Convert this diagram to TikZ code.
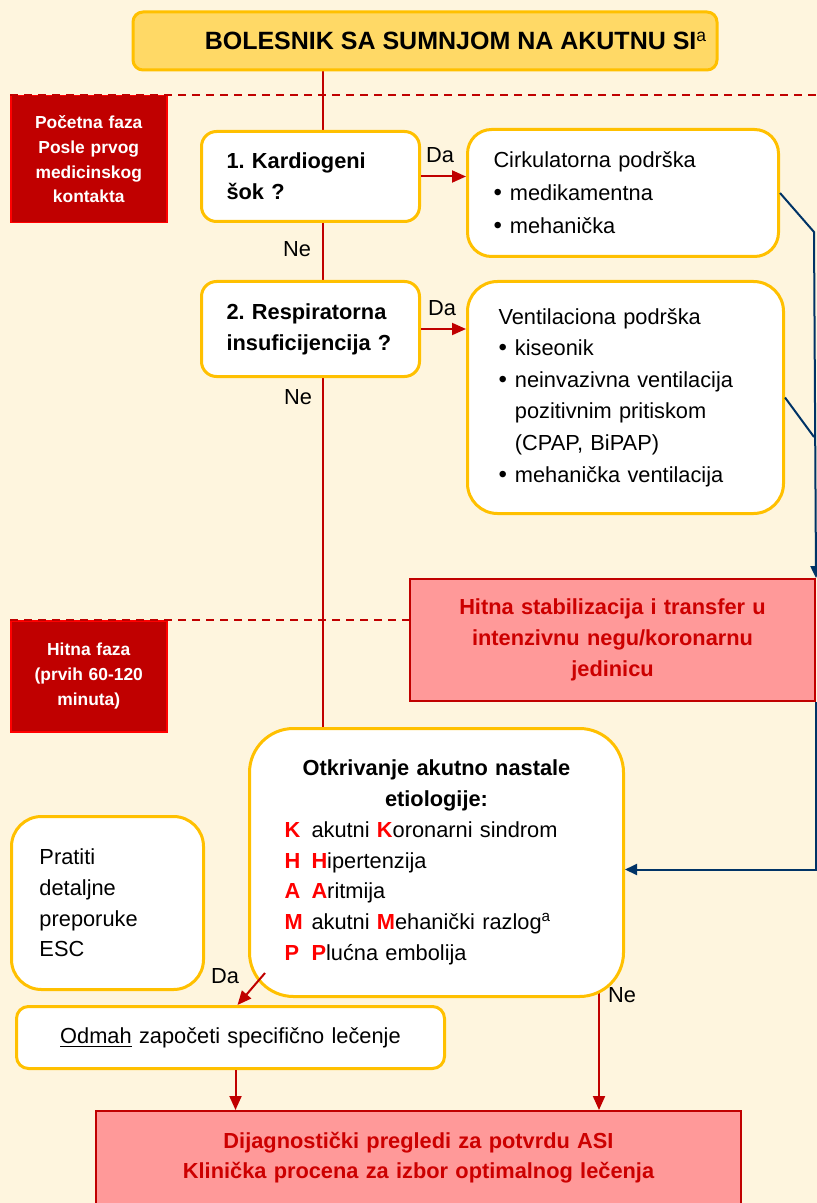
\documentclass[tikz,border=0pt]{standalone}
\usepackage{fontspec}
\setmainfont{Liberation Sans}
\usepackage{tikz}
\usetikzlibrary{positioning,arrows.meta,backgrounds}
\usepackage{xcolor}

\definecolor{cream}{HTML}{FEF5DE}
\definecolor{boxline}{HTML}{FFC000}
\definecolor{titlefill}{HTML}{FFD966}
\definecolor{darkred}{HTML}{C00000}
\definecolor{pinkfill}{HTML}{FF9999}
\definecolor{textred}{HTML}{CC0000}
\definecolor{navy}{HTML}{003366}

\newcommand{\basefont}{\fontsize{10.9}{15.4}\selectfont}
\newcommand{\bul}{{\large\textbullet}\hspace{4pt}}
\newcommand{\nobul}{\phantom{\bul}}
\newcommand{\redch}[1]{\textcolor{red}{\bfseries #1}}
\newcommand{\redkey}[1]{\makebox[13.5pt][l]{\redch{#1}}}

\begin{document}
\begin{tikzpicture}[
    x=0.5pt, y=-0.5pt,
    every node/.style={font=\basefont, inner ysep=0pt},
    titlebox/.style={draw=boxline, fill=titlefill, line width=1.5pt, rounded corners=5pt,
        minimum width=292pt, minimum height=29pt, font=\bfseries\fontsize{12.5}{15}\selectfont},
    phase/.style={draw=red, fill=darkred, line width=0.75pt, anchor=north west, align=center,
        text=white, text width=70pt, inner xsep=4pt, font=\bfseries\fontsize{8.7}{12.4}\selectfont},
    ybox/.style={draw=boxline, fill=white, line width=1.5pt, anchor=north west, align=left},
    qbox/.style={ybox, rounded corners=7.5pt, text width=84pt, inner xsep=12.5pt,
        font=\bfseries\basefont},
    alarm/.style={draw=darkred, fill=pinkfill, line width=1pt, anchor=north west, align=center,
        text=textred, font=\bfseries\basefont},
    redline/.style={draw=darkred, line width=1pt},
    redarrow/.style={redline, -{Triangle[length=7pt,width=6pt]}},
    blueline/.style={draw=navy, line width=1pt},
    bluearrow/.style={blueline, -{Triangle[length=6pt,width=5.5pt]}},
    phaseline/.style={draw=darkred, line width=1pt, dash pattern=on 4pt off 3pt}
]
\useasboundingbox (0,0) rectangle (817,1203);
\begin{scope}[on background layer]
\fill[cream] (0,0) rectangle (817,1203);
\end{scope}

\node[titlebox] (title) at (425,41) {\hspace*{31pt}BOLESNIK SA SUMNJOM NA AKUTNU SI\textsuperscript{\mdseries a}};

\node[phase, minimum height=63.5pt] (phaseA) at (10,95) {Početna faza\\Posle prvog\\medicinskog\\kontakta};
\node[phase, minimum height=55.5pt] (phaseB) at (10,620) {Hitna faza\\(prvih 60-120\\minuta)};

\node[qbox, minimum height=45pt] (kard) at (200,130) {1.\ Kardiogeni\\šok ?};
\node[qbox, minimum height=47.5pt] (resp) at (200,280) {2.\ Respiratorna\\insuficijencija ?};

\node[ybox, rounded corners=12pt, text width=129.5pt, inner xsep=13pt, minimum height=63.5pt,
    font=\fontsize{10.9}{16.5}\selectfont] (cirk) at (466,128)
    {Cirkulatorna podrška\\\bul medikamentna\\\bul mehanička};
\node[ybox, rounded corners=15pt, text width=127pt, inner xsep=15.5pt, minimum height=116pt,
    font=\fontsize{10.9}{15.8}\selectfont] (vent) at (466,280)
    {Ventilaciona podrška\\\bul kiseonik\\\bul neinvazivna ventilacija\\\nobul pozitivnim pritiskom\\\nobul (CPAP, BiPAP)\\\bul mehanička ventilacija};

\node[alarm, text width=190pt, inner xsep=6.25pt, minimum height=61pt] (hitna) at (409,578)
    {Hitna stabilizacija i transfer u\\intenzivnu negu/koronarnu\\jedinicu};

\node[ybox, rounded corners=22pt, text width=152pt, inner xsep=17.5pt, minimum height=134pt] (etio) at (248,727)
    {\makebox[\hsize]{\bfseries Otkrivanje akutno nastale}\\
     \makebox[\hsize]{\bfseries etiologije:}\\
     \redkey{K}akutni \redch{K}oronarni sindrom\\
     \redkey{H}\redch{H}ipertenzija\\
     \redkey{A}\redch{A}ritmija\\
     \redkey{M}akutni \redch{M}ehanički razlog\textsuperscript{a}\\
     \redkey{P}\redch{P}lućna embolija};

\node[ybox, rounded corners=15pt, text width=68pt, inner xsep=14pt, minimum height=86.5pt] (esc) at (10,815)
    {Pratiti\\detaljne\\preporuke\\ESC};

\node[ybox, rounded corners=6pt, align=center, text width=200pt, inner xsep=7pt, minimum height=31pt] (odmah) at (15,1005)
    {\underline{Odmah} započeti specifično lečenje};

\node[alarm, text width=310pt, inner xsep=6.25pt, minimum height=47pt, font=\bfseries\fontsize{10.9}{15}\selectfont] (dijag) at (95,1110)
    {Dijagnostički pregledi za potvrdu ASI\\Klinička procena za izbor optimalnog lečenja};

\node (daA) at (440,155) {Da};
\node (daB) at (442,308) {Da};
\node (neA) at (297,249) {Ne};
\node (neB) at (298,397) {Ne};
\node (daC) at (225,976) {Da};
\node (neC) at (622,995) {Ne};

\coordinate (spine) at (323,0);
\coordinate (rim) at (817,0);
\coordinate (busTop) at (814,232);
\coordinate (busMid) at (814,437);

\draw[phaseline] (phaseA.north west) -- (phaseA.north west -| rim);
\draw[phaseline] (phaseB.north west) -- (phaseB.north west -| hitna.west);

\draw[redarrow] (kard.east) -- (kard.east -| cirk.west);
\draw[redarrow] (resp.east) -- (resp.east -| vent.west);

\draw[bluearrow] (cirk.east) -- (busTop) -- (hitna.north east);
\draw[blueline] (vent.east) -- (busMid);
\draw[bluearrow] (hitna.south east) |- ([yshift=-3.5pt]etio.east);

\draw[redarrow] ([shift={(8.5pt,12.5pt)}]etio.south west) -- ([xshift=3.5pt]odmah.north);
\draw[redarrow] ([xshift=2.5pt]odmah.south) -- ([xshift=2.5pt]odmah.south |- dijag.north);

\begin{scope}[on background layer]
\draw[redline] (title.south -| spine) -- (spine |- etio.north);
\draw[redarrow] ([shift={(-13pt,4pt)}]etio.south east) -- ([xshift=-13pt]etio.south east |- dijag.north);
\end{scope}
\end{tikzpicture}
\end{document}
